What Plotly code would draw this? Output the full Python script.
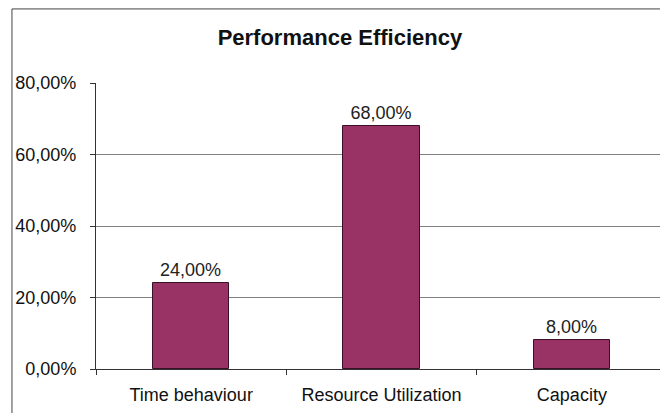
import plotly.graph_objects as go

categories = ["Time behaviour", "Resource Utilization", "Capacity"]
values = [0.24, 0.68, 0.08]
y_ticks = [0, 0.2, 0.4, 0.6, 0.8]

font = "Liberation Sans, Arial, sans-serif"

fig = go.Figure(
    go.Bar(
        x=categories,
        y=values,
        width=0.4,
        marker={"color": "#993366", "line": {"color": "#3a1028", "width": 1}},
        texttemplate="%{y:.2%}",
        textposition="outside",
        textfont={"size": 18, "color": "#222222", "family": font},
        cliponaxis=False,
    )
)

fig.update_layout(
    width=660,
    height=413,
    separators=",.",
    paper_bgcolor="white",
    plot_bgcolor="white",
    font={"family": font, "size": 18, "color": "#111111"},
    title={
        "text": "<b>Performance Efficiency</b>",
        "x": 0.515,
        "xanchor": "center",
        "y": 0.91,
        "yanchor": "middle",
        "font": {"size": 22, "color": "#111111"},
    },
    margin={"l": 96, "r": 0, "t": 83, "b": 44},
    showlegend=False,
    bargap=0,
    xaxis={
        "range": [-0.5, 2.463],
        "showline": True,
        "linecolor": "#333333",
        "linewidth": 1,
        "ticks": "outside",
        "tickson": "boundaries",
        "ticklen": 5,
        "tickcolor": "#333333",
        "ticklabelstandoff": 9,
        "showgrid": False,
        "tickfont": {"size": 18, "color": "#111111"},
    },
    yaxis={
        "range": [0, 0.8],
        "tickvals": y_ticks,
        "tickformat": ".2%",
        "showline": True,
        "linecolor": "#333333",
        "linewidth": 1,
        "ticks": "outside",
        "ticklen": 5,
        "tickcolor": "#333333",
        "ticklabelstandoff": 10,
        "showgrid": True,
        "gridcolor": "#808080",
        "gridwidth": 1,
        "zeroline": False,
        "tickfont": {"size": 18, "color": "#111111"},
    },
)

# outer chart frame: only its left and top edges fall inside the window
fig.add_shape(
    type="rect",
    xref="paper",
    yref="paper",
    x0=-0.149,
    x1=1.4,
    y0=-0.5,
    y1=1.259,
    line={"color": "#444444", "width": 1},
    layer="below",
)

fig.write_html(
    "out.html",
    config={"displayModeBar": False},
    post_script="document.body.style.margin='0';document.body.style.overflow='hidden';",
)
